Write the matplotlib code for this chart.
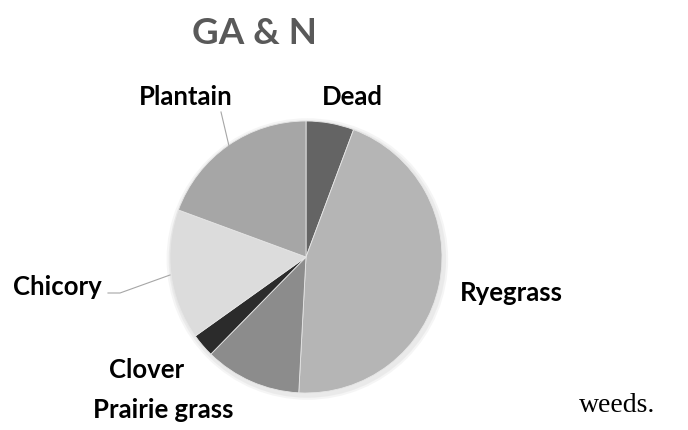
import matplotlib.pyplot as plt
from matplotlib.lines import Line2D
from matplotlib.patches import Circle

# slice data, clockwise from 12 o'clock
labels = ['Dead', 'Ryegrass', 'Prairie grass', 'Clover', 'Chicory', 'Plantain']
shares = [5.7, 45.2, 11.5, 2.8, 15.5, 19.4]
colors = ['#646464', '#b5b5b5', '#8c8c8c', '#2b2b2b', '#dcdcdc', '#a6a6a6']

W, H = 688, 430
fig = plt.figure(figsize=(W / 100, H / 100), dpi=100)
fig.patch.set_facecolor('white')

# pie centre and radius in pixels; axes padded so the edge is not clipped
cx, cy, r = 306, 257, 136
pad = 1.1
R = r * pad
ax = fig.add_axes([(cx - R) / W, (H - cy - R) / H, 2 * R / W, 2 * R / H])

# faint shadow around the pie
for k, a in [(1.035, 0.25), (1.02, 0.35)]:
    ax.add_patch(Circle((0.01, -0.015), k, color='#d8d8d8', alpha=a, lw=0, zorder=0))

ax.pie(shares, colors=colors, startangle=90, counterclock=False, radius=1,
       wedgeprops=dict(edgecolor='#e6e6e6', linewidth=0.6))
ax.set_xlim(-pad, pad)
ax.set_ylim(-pad, pad)
ax.set_aspect('equal')
ax.axis('off')


def px(x, y):
    return x / W, 1 - y / H


font = ['Lato', 'DejaVu Sans']
lab_pos = {
    'Dead': (352, 97),
    'Plantain': (186, 97),
    'Ryegrass': (511, 293),
    'Chicory': (57, 287),
    'Clover': (147, 370),
    'Prairie grass': (163, 410),
}
for name in labels:
    x, y = lab_pos[name]
    fig.text(*px(x, y), name, ha='center', va='center', fontsize=18.5,
             fontweight='bold', family=font, color='black')

# leader lines
for (x0, y0), (x1, y1), (x2, y2) in [((221, 112), (221, 112), (229, 146)),
                                     ((108, 293), (120, 293), (170, 275))]:
    fig.add_artist(Line2D([x0 / W, x1 / W, x2 / W],
                          [1 - y0 / H, 1 - y1 / H, 1 - y2 / H],
                          color='#a6a6a6', lw=0.8))

fig.text(*px(254, 33), 'GA & N', ha='center', va='center', fontsize=26.5,
         fontweight='bold', family=font, color='#595959')

fig.text(*px(617, 406), 'weeds.', ha='center', va='center', fontsize=20,
         family=['Liberation Serif', 'DejaVu Serif'], color='black')

fig.savefig('out.png', dpi=100)
